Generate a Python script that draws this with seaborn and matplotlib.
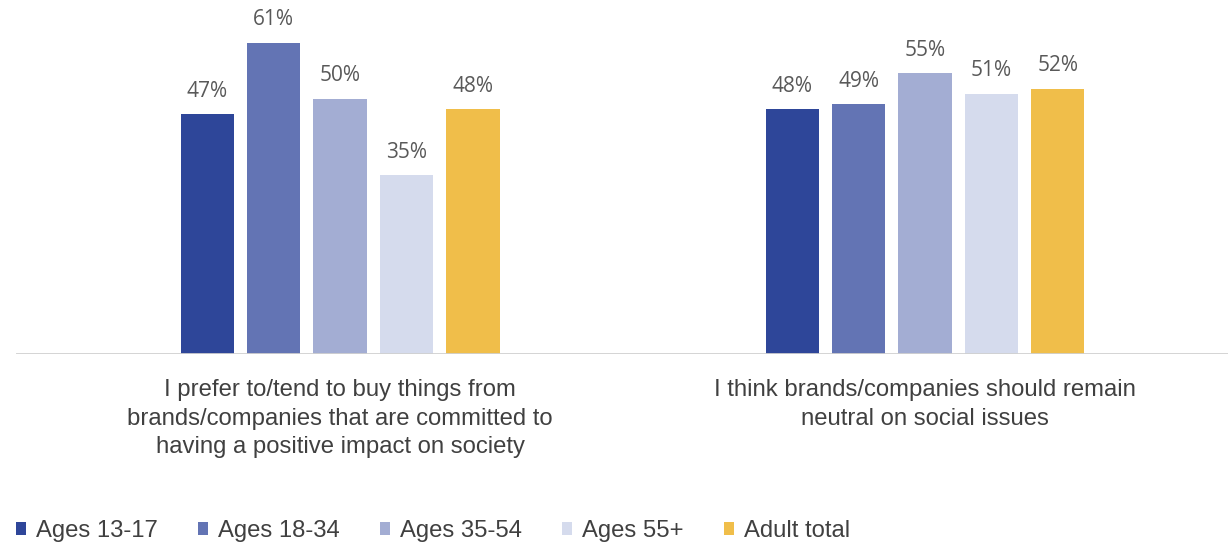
import matplotlib
matplotlib.use("Agg")
import matplotlib.pyplot as plt
import seaborn as sns
import pandas as pd
from matplotlib.patches import Patch

# Survey statements (x categories)
statements = [
    "I prefer to/tend to buy things from\nbrands/companies that are committed to\nhaving a positive impact on society",
    "I think brands/companies should remain\nneutral on social issues",
]
groups = ["Ages 13-17", "Ages 18-34", "Ages 35-54", "Ages 55+", "Adult total"]

# Share agreeing (%) per group
ages_13_17 = [47, 48]
ages_18_34 = [61, 49]
ages_35_54 = [50, 55]
ages_55_plus = [35, 51]
adult_total = [48, 52]

colors = ["#2E4699", "#6374B4", "#A3ADD3", "#D5DBED", "#F0BE4A"]

series = [ages_13_17, ages_18_34, ages_35_54, ages_55_plus, adult_total]
rows = []
for g, vals in zip(groups, series):
    for s, v in zip(statements, vals):
        rows.append({"statement": s, "group": g, "value": v})
df = pd.DataFrame(rows)

sns.set_style("white")
plt.rcParams["font.family"] = ["Liberation Sans", "DejaVu Sans"]

fig = plt.figure(figsize=(12.28, 5.45), dpi=100)
ax = fig.add_axes([16 / 1228, (545 - 354) / 545, (1228 - 16) / 1228, 354 / 545])

sns.barplot(
    data=df, x="statement", y="value", hue="group",
    order=statements, hue_order=groups, palette=colors,
    width=0.568, gap=0.2, ax=ax, legend=False, saturation=1,
    linewidth=0,
)

for container in ax.containers:
    ax.bar_label(container, labels=[f"{int(v)}%" for v in container.datavalues],
                 padding=9, fontsize=15, color="#595959",
                 fontfamily=["Open Sans", "DejaVu Sans"])

ax.set_xlim(-0.554, 1.518)
ax.set_ylim(0, 69.4)
ax.axhline(0, color="#D0D0D0", lw=2, zorder=5)
for sp in ax.spines.values():
    sp.set_visible(False)
ax.set_yticks([])
ax.set_xlabel("")
ax.set_ylabel("")
ax.tick_params(axis="x", length=0, pad=18)
for lbl in ax.get_xticklabels():
    lbl.set_fontsize(17.2)
    lbl.set_color("#404040")
    lbl.set_linespacing(1.39)

handles = [Patch(facecolor=c, edgecolor="none") for c in colors]
fig.legend(handles, groups, loc="center left", bbox_to_anchor=(16 / 1228, 1 - 531 / 545),
           ncol=5, frameon=False, fontsize=17.2, labelcolor="#404040",
           handlelength=0.42, handleheight=0.42, handletextpad=0.4,
           columnspacing=1.7, borderpad=0, borderaxespad=0)

fig.savefig("out.png", dpi=100)
